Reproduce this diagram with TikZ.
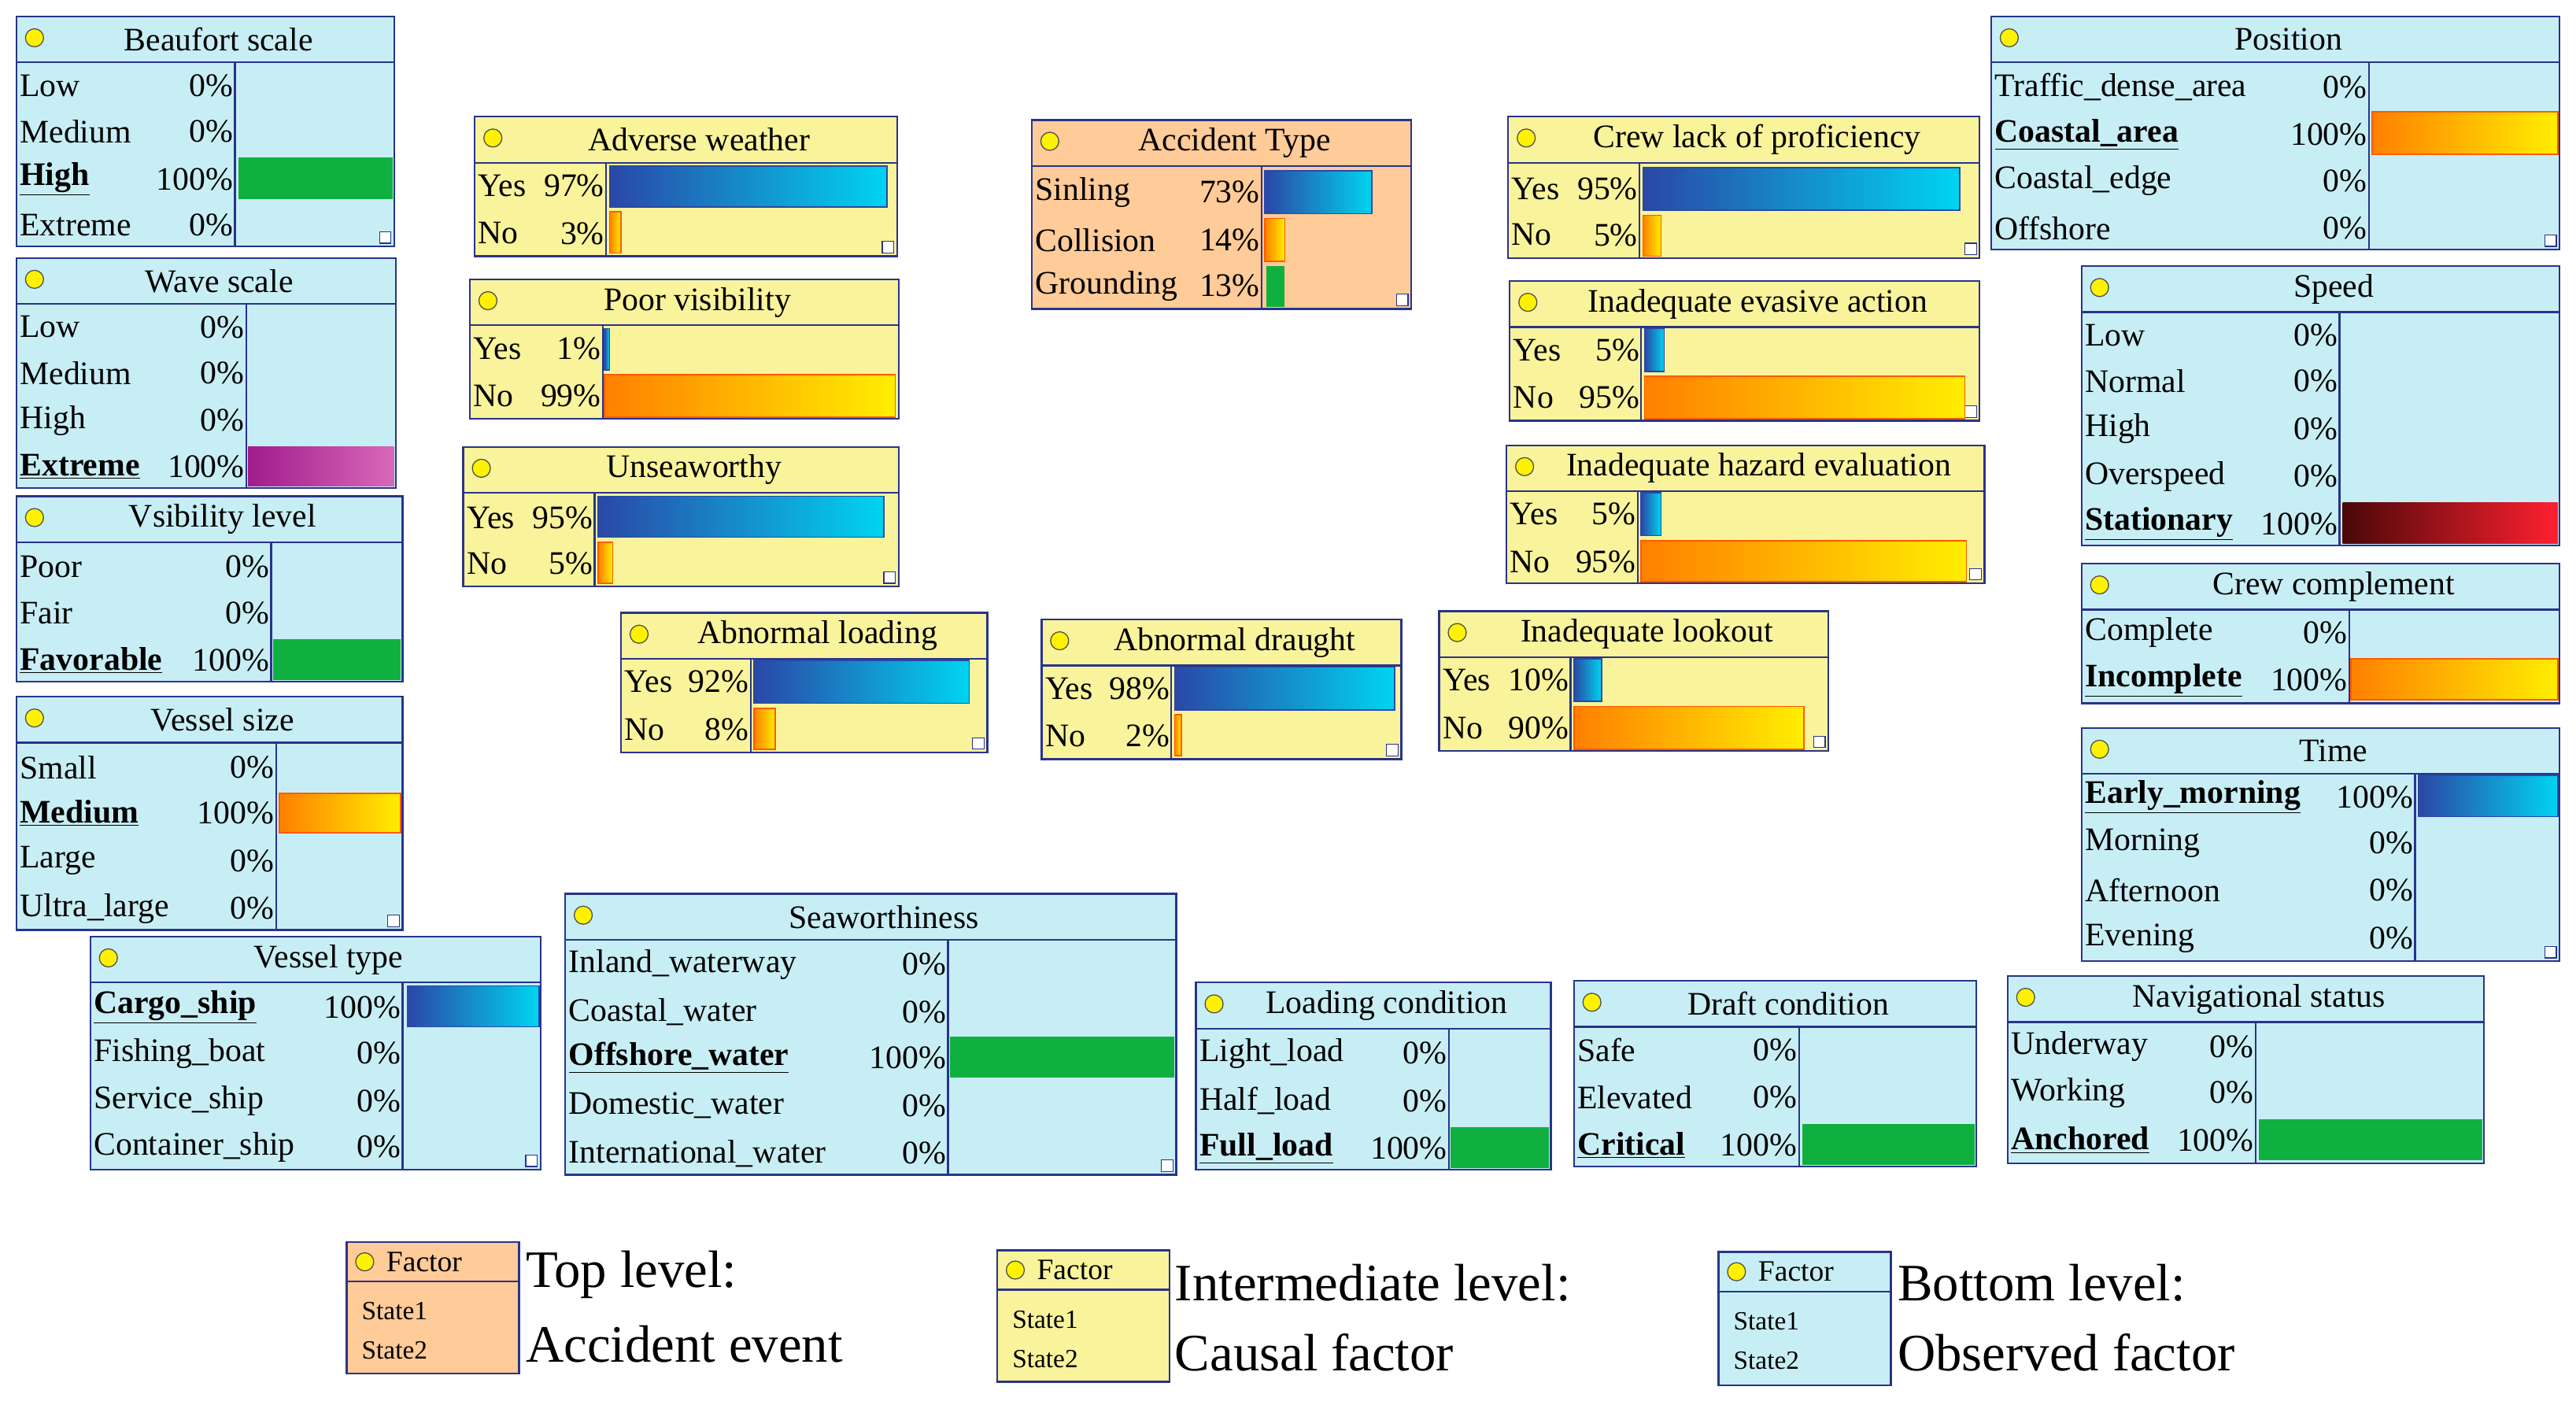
\documentclass[tikz,border=0pt]{standalone}
\usepackage{fontspec}
\setmainfont{Liberation Serif}
\usetikzlibrary{fit,arrows.meta}
\pgfdeclarelayer{bg}\pgfsetlayers{bg,main}
\definecolor{bfill}{HTML}{C8EEF5}
\definecolor{yfill}{HTML}{F9F39B}
\definecolor{ofill}{HTML}{FFCB98}
\definecolor{bord}{HTML}{28348A}
\definecolor{edg}{HTML}{1E1E6E}
\definecolor{blA}{HTML}{2A48A6}
\definecolor{blB}{HTML}{0070C0}
\definecolor{blC}{HTML}{00D4F0}
\definecolor{orA}{HTML}{FF8000}
\definecolor{orB}{HTML}{FFEE00}
\definecolor{grn}{HTML}{10B040}
\definecolor{puA}{HTML}{A01C8C}
\definecolor{puB}{HTML}{D868B8}
\definecolor{drA}{HTML}{4A0808}
\definecolor{drB}{HTML}{FF2030}
\tikzset{
 box/.style={draw=bord,line width=1.1pt,inner sep=0pt},
 boxline/.style={draw=bord,line width=1.1pt},
 ttl/.style={inner sep=0pt,font=\fontsize{20}{22}\selectfont},
 lbl/.style={inner sep=0pt,font=\fontsize{20}{22}\selectfont},
 arr/.style={draw=edg,line width=0.9pt,-{Latex[length=10pt,width=7pt]}},
 big/.style={inner sep=0pt,anchor=west,font=\fontsize{32}{34}\selectfont},
 small/.style={inner sep=0pt,anchor=west,font=\fontsize{16}{18}\selectfont}
}
% name, x1,y1,x2,y2, fill, title, divider
\newcommand\bnbox[8]{%
 \node[box,fill=#6,fit={(#2,#3)(#4,#5)}] (#1) {};
 \draw[boxline] (#2,#3+28) -- (#4,#3+28);
 \draw[boxline] (#8,#3+28) -- (#8,#5);
 \fill[yellow,draw=black!70,line width=0.6pt] (#2+11,#3+13) circle (5.5);
 \node[ttl] at ({(#2+#4)/2+8},#3+14) {#7};
 \draw[draw=bord,line width=0.6pt,fill=white] (#4-9,#5-9) rectangle (#4-2,#5-2);
}
\newcommand\st[5]{%
 \node[lbl,anchor=west] at (#1+2,#3) {#4};
 \node[lbl,anchor=east] at (#2-1,#3) {#5};
}
\newcommand\bu[1]{\textbf{\underline{#1}}}
\newcommand\barblue[4]{\shade[left color=blA,middle color=blB,right color=blC] (#1,#2) rectangle (#3,#4); \draw[blA,line width=0.8pt] (#1,#2) rectangle (#3,#4);}
\newcommand\barora[4]{\shade[left color=orA,right color=orB] (#1,#2) rectangle (#3,#4); \draw[orA!70!red,line width=0.8pt] (#1,#2) rectangle (#3,#4);}
\newcommand\bargrn[4]{\fill[grn] (#1,#2) rectangle (#3,#4);}
\begin{document}
\begin{tikzpicture}[x=1pt,y=-1pt]
\useasboundingbox[fill=white] (0,0) rectangle (1568,855);
% ---------- bottom level (blue) ----------
\bnbox{bf}{10}{10}{240}{150}{bfill}{Beaufort scale}{143}
\st{10}{143}{52}{Low}{0\%}\st{10}{143}{80}{Medium}{0\%}\st{10}{143}{109}{\bu{High}}{100\%}\st{10}{143}{137}{Extreme}{0\%}
\bargrn{145}{96}{239}{121}
\bnbox{wv}{10}{157}{241}{297}{bfill}{Wave scale}{150}
\st{10}{150}{199}{Low}{0\%}\st{10}{150}{227}{Medium}{0\%}\st{10}{150}{256}{High}{0\%}\st{10}{150}{284}{\bu{Extreme}}{100\%}
\shade[left color=puA,right color=puB] (151,272) rectangle (240,296);
\bnbox{vl}{10}{302}{245}{415}{bfill}{Vsibility level}{165}
\st{10}{165}{345}{Poor}{0\%}\st{10}{165}{373}{Fair}{0\%}\st{10}{165}{402}{\bu{Favorable}}{100\%}
\bargrn{166}{389}{244}{414}
\bnbox{vs}{10}{424}{245}{566}{bfill}{Vessel size}{168}
\st{10}{168}{467}{Small}{0\%}\st{10}{168}{495}{\bu{Medium}}{100\%}\st{10}{168}{524}{Large}{0\%}\st{10}{168}{553}{Ultra\_large}{0\%}
\barora{170}{483}{244}{507}
\bnbox{vt}{55}{570}{329}{712}{bfill}{Vessel type}{245}
\st{55}{245}{613}{\bu{Cargo\_ship}}{100\%}\st{55}{245}{641}{Fishing\_boat}{0\%}\st{55}{245}{670}{Service\_ship}{0\%}\st{55}{245}{698}{Container\_ship}{0\%}
\barblue{248}{600}{328}{625}
\bnbox{sw}{344}{544}{716}{715}{bfill}{Seaworthiness}{577}
\st{344}{577}{587}{Inland\_waterway}{0\%}\st{344}{577}{616}{Coastal\_water}{0\%}\st{344}{577}{644}{\bu{Offshore\_water}}{100\%}\st{344}{577}{673}{Domestic\_water}{0\%}\st{344}{577}{702}{International\_water}{0\%}
\bargrn{578}{631}{715}{656}
\bnbox{lc}{728}{598}{944}{712}{bfill}{Loading condition}{882}
\st{728}{882}{641}{Light\_load}{0\%}\st{728}{882}{670}{Half\_load}{0\%}\st{728}{882}{699}{\bu{Full\_load}}{100\%}
\bargrn{883}{686}{943}{711}
\bnbox{dc}{958}{597}{1203}{710}{bfill}{Draft condition}{1095}
\st{958}{1095}{639}{Safe}{0\%}\st{958}{1095}{668}{Elevated}{0\%}\st{958}{1095}{697}{\bu{Critical}}{100\%}
\bargrn{1097}{684}{1202}{709}
\bnbox{ns}{1222}{594}{1512}{708}{bfill}{Navigational status}{1373}
\st{1222}{1373}{637}{Underway}{0\%}\st{1222}{1373}{665}{Working}{0\%}\st{1222}{1373}{694}{\bu{Anchored}}{100\%}
\bargrn{1375}{681}{1511}{706}
\bnbox{tm}{1267}{443}{1558}{585}{bfill}{Time}{1470}
\st{1267}{1470}{485}{\bu{Early\_morning}}{100\%}\st{1267}{1470}{513}{Morning}{0\%}\st{1267}{1470}{542}{Afternoon}{0\%}\st{1267}{1470}{571}{Evening}{0\%}
\barblue{1472}{472}{1557}{497}
\bnbox{cc}{1267}{343}{1558}{428}{bfill}{Crew complement}{1430}
\st{1267}{1430}{385}{Complete}{0\%}\st{1267}{1430}{414}{\bu{Incomplete}}{100\%}
\barora{1431}{401}{1557}{426}
\bnbox{sp}{1267}{162}{1558}{332}{bfill}{Speed}{1424}
\st{1267}{1424}{204}{Low}{0\%}\st{1267}{1424}{232}{Normal}{0\%}\st{1267}{1424}{261}{High}{0\%}\st{1267}{1424}{290}{Overspeed}{0\%}\st{1267}{1424}{319}{\bu{Stationary}}{100\%}
\shade[left color=drA,right color=drB] (1426,306) rectangle (1557,331);
\bnbox{po}{1212}{10}{1558}{152}{bfill}{Position}{1442}
\st{1212}{1442}{53}{Traffic\_dense\_area}{0\%}\st{1212}{1442}{82}{\bu{Coastal\_area}}{100\%}\st{1212}{1442}{110}{Coastal\_edge}{0\%}\st{1212}{1442}{139}{Offshore}{0\%}
\barora{1444}{68}{1557}{94}
% ---------- intermediate (yellow) ----------
\bnbox{aw}{289}{71}{546}{156}{yfill}{Adverse weather}{369}
\st{289}{369}{113}{Yes}{97\%}\st{289}{369}{142}{No}{3\%}
\barblue{371}{101}{540}{126}\barora{371}{129}{378}{154}
\bnbox{pv}{286}{170}{547}{255}{yfill}{Poor visibility}{367}
\st{286}{367}{212}{Yes}{1\%}\st{286}{367}{241}{No}{99\%}
\barblue{368}{200}{371}{225}\barora{368}{228}{545}{254}
\bnbox{us}{282}{272}{547}{357}{yfill}{Unseaworthy}{362}
\st{282}{362}{315}{Yes}{95\%}\st{282}{362}{343}{No}{5\%}
\barblue{364}{302}{538}{327}\barora{364}{330}{373}{355}
\bnbox{al}{378}{373}{601}{458}{yfill}{Abnormal loading}{457}
\st{378}{457}{415}{Yes}{92\%}\st{378}{457}{444}{No}{8\%}
\barblue{459}{402}{590}{428}\barora{459}{431}{472}{456}
\bnbox{ad}{634}{377}{853}{462}{yfill}{Abnormal draught}{713}
\st{634}{713}{419}{Yes}{98\%}\st{634}{713}{448}{No}{2\%}
\barblue{715}{406}{849}{432}\barora{715}{435}{719}{460}
\bnbox{il}{876}{372}{1113}{457}{yfill}{Inadequate lookout}{956}
\st{876}{956}{414}{Yes}{10\%}\st{876}{956}{443}{No}{90\%}
\barblue{958}{401}{975}{427}\barora{958}{430}{1098}{456}
\bnbox{cl}{918}{71}{1205}{157}{yfill}{Crew lack of proficiency}{998}
\st{918}{998}{115}{Yes}{95\%}\st{918}{998}{143}{No}{5\%}
\barblue{1000}{102}{1193}{128}\barora{1000}{131}{1011}{156}
\bnbox{ea}{919}{171}{1205}{256}{yfill}{Inadequate evasive action}{999}
\st{919}{999}{213}{Yes}{5\%}\st{919}{999}{242}{No}{95\%}
\barblue{1001}{200}{1013}{226}\barora{1001}{229}{1196}{255}
\bnbox{he}{917}{271}{1208}{355}{yfill}{Inadequate hazard evaluation}{997}
\st{917}{997}{313}{Yes}{5\%}\st{917}{997}{342}{No}{95\%}
\barblue{999}{300}{1011}{326}\barora{999}{329}{1197}{354}
% ---------- top ----------
\bnbox{at}{628}{73}{859}{188}{ofill}{Accident Type}{768}
\st{628}{768}{117}{Sinling}{73\%}\st{628}{768}{146}{Collision}{14\%}\st{628}{768}{174}{Grounding}{13\%}
\barblue{770}{104}{835}{130}\barora{770}{133}{782}{159}\bargrn{771}{162}{782}{187}
% ---------- edges ----------
\begin{pgfonlayer}{bg}
\foreach \a/\b in {bf/aw,wv/aw,aw/at,pv/at,us/at,vl/pv,vs/us,sw/us,lc/us,dc/us,al/at,ad/at,il/at,ea/at,he/at,
  vl/il,vs/ea,vt/al,lc/al,vt/ea,sw/he,sw/il,dc/ad,ad/il,tm/il,ns/il,ns/he,cc/he,sp/he,sp/ea,he/ea,il/he,
  al/cl,ad/cl,sp/cl,po/cl,al/ea,ad/he}
  \draw[arr] (\a) -- (\b);
\end{pgfonlayer}
% ---------- legend ----------
\node[box,fill=ofill,fit={(211,756)(316,836)}] (lg1) {};
\draw[boxline] (211,780) -- (316,780);
\fill[yellow,draw=black!70,line width=0.6pt] (222,768) circle (5.5);
\node[small,font=\fontsize{18}{20}\selectfont] at (235,768) {Factor};
\node[small] at (220,798) {State1}; \node[small] at (220,822) {State2};
\node[big] (t1) at (320,776) {Top level:}; \node[big] (t2) at (320,818) {Accident event};
\node[box,fill=yfill,fit={(607,761)(712,841)}] (lg2) {};
\draw[boxline] (607,785) -- (712,785);
\fill[yellow,draw=black!70,line width=0.6pt] (618,773) circle (5.5);
\node[small,font=\fontsize{18}{20}\selectfont] at (631,773) {Factor};
\node[small] at (616,803) {State1}; \node[small] at (616,827) {State2};
\node[big] (t3) at (715,781) {Intermediate level:}; \node[big] (t4) at (715,823) {Causal factor};
\node[box,fill=bfill,fit={(1046,762)(1151,843)}] (lg3) {};
\draw[boxline] (1046,786) -- (1151,786);
\fill[yellow,draw=black!70,line width=0.6pt] (1057,774) circle (5.5);
\node[small,font=\fontsize{18}{20}\selectfont] at (1070,774) {Factor};
\node[small] at (1055,804) {State1}; \node[small] at (1055,828) {State2};
\node[big] (t5) at (1155,781) {Bottom level:}; \node[big] (t6) at (1155,823) {Observed factor};
\end{tikzpicture}
\end{document}
